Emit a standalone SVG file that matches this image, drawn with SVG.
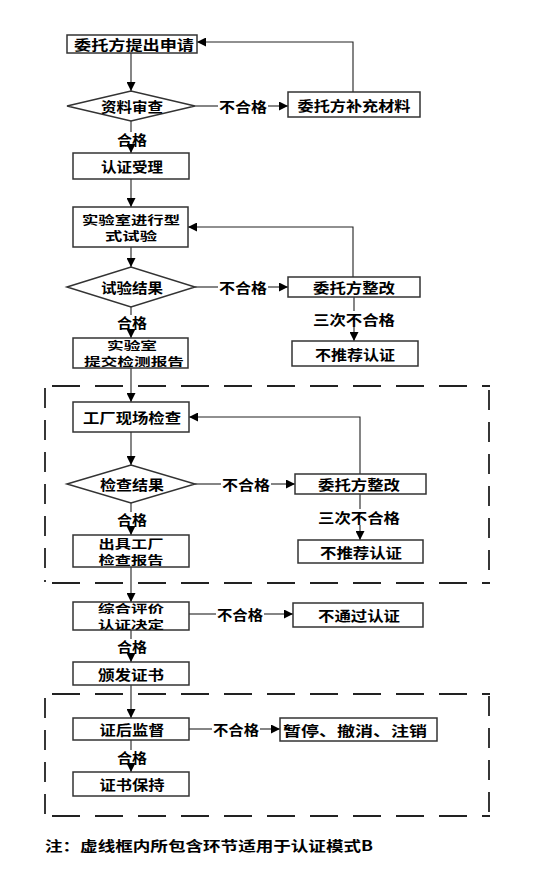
<svg xmlns="http://www.w3.org/2000/svg" width="547" height="871" viewBox="0 0 547 871">
<defs>
<style>
.box{fill:#fff;stroke:#333;stroke-width:1.5}
.t{font-family:"Noto Sans CJK SC","Liberation Serif",sans-serif;font-weight:bold;font-size:14px;fill:#000;text-anchor:middle;dominant-baseline:central}
.t2{font-size:12px}
.t3{font-size:11px}
.c{fill:none;stroke:#222;stroke-width:1.1}
.dh{fill:none;stroke:#222;stroke-width:1.8;stroke-dasharray:28 15}
.dv{fill:none;stroke:#222;stroke-width:1.8;stroke-dasharray:20 12}
</style>
<marker id="ah" viewBox="0 0 10 10" refX="10" refY="5" markerWidth="9" markerHeight="9" markerUnits="userSpaceOnUse" orient="auto"><path d="M0,0 L10,5 L0,10 z" fill="#000"/></marker>
</defs>
<rect width="547" height="871" fill="#fff"/>

<g id="dashed-frames">
<path class="dh" d="M52,386 H490"/>
<path class="dv" d="M45,388 V582"/>
<path class="dv" d="M489,390 V582"/>
<path class="dh" d="M52,583 H490"/>
<path class="dh" d="M52,694 H490"/>
<path class="dv" d="M45,698 V816"/>
<path class="dv" d="M489,696 V816"/>
<path class="dh" d="M52,816 H490"/>
</g>

<g id="connectors">
<path class="c" d="M131,53 V91" marker-end="url(#ah)"/>
<path class="c" d="M195,106 H218"/>
<path class="c" d="M268,106 H288" marker-end="url(#ah)"/>
<path class="c" d="M353,92 V42 H197" marker-end="url(#ah)"/>
<path class="c" d="M131,121 V132"/>
<path class="c" d="M131,146 V153" marker-end="url(#ah)"/>
<path class="c" d="M131,179 V207" marker-end="url(#ah)"/>
<path class="c" d="M131,247 V267" marker-end="url(#ah)"/>
<path class="c" d="M195,287 H218"/>
<path class="c" d="M268,287 H288" marker-end="url(#ah)"/>
<path class="c" d="M353,277 V227 H188" marker-end="url(#ah)"/>
<path class="c" d="M354,297 V311"/>
<path class="c" d="M354,327 V341" marker-end="url(#ah)"/>
<path class="c" d="M131,307 V315"/>
<path class="c" d="M131,329 V338" marker-end="url(#ah)"/>
<path class="c" d="M131,368 V402" marker-end="url(#ah)"/>
<path class="c" d="M131,432 V465" marker-end="url(#ah)"/>
<path class="c" d="M195,484 H221"/>
<path class="c" d="M271,484 H295" marker-end="url(#ah)"/>
<path class="c" d="M360,474 V417 H189" marker-end="url(#ah)"/>
<path class="c" d="M360,494 V509"/>
<path class="c" d="M360,525 V540" marker-end="url(#ah)"/>
<path class="c" d="M131,503 V512"/>
<path class="c" d="M131,526 V535" marker-end="url(#ah)"/>
<path class="c" d="M131,567 V602" marker-end="url(#ah)"/>
<path class="c" d="M189,614 H216"/>
<path class="c" d="M264,614 H293" marker-end="url(#ah)"/>
<path class="c" d="M131,630 V639"/>
<path class="c" d="M131,653 V662" marker-end="url(#ah)"/>
<path class="c" d="M131,685 V718" marker-end="url(#ah)"/>
<path class="c" d="M189,729 H212"/>
<path class="c" d="M260,729 H280" marker-end="url(#ah)"/>
<path class="c" d="M131,740 V750"/>
<path class="c" d="M131,764 V772" marker-end="url(#ah)"/>
</g>

<g id="labels">
<text class="t" x="243" y="106" textLength="48" lengthAdjust="spacingAndGlyphs">不合格</text>
<text class="t" x="132" y="139" textLength="30" lengthAdjust="spacingAndGlyphs">合格</text>
<text class="t" x="243" y="287" textLength="48" lengthAdjust="spacingAndGlyphs">不合格</text>
<text class="t" x="354" y="319" textLength="82" lengthAdjust="spacingAndGlyphs">三次不合格</text>
<text class="t" x="132" y="322" textLength="30" lengthAdjust="spacingAndGlyphs">合格</text>
<text class="t" x="246" y="484" textLength="48" lengthAdjust="spacingAndGlyphs">不合格</text>
<text class="t" x="359" y="517" textLength="82" lengthAdjust="spacingAndGlyphs">三次不合格</text>
<text class="t" x="132" y="519" textLength="30" lengthAdjust="spacingAndGlyphs">合格</text>
<text class="t" x="240" y="614" textLength="46" lengthAdjust="spacingAndGlyphs">不合格</text>
<text class="t" x="132" y="646" textLength="30" lengthAdjust="spacingAndGlyphs">合格</text>
<text class="t" x="236" y="729" textLength="46" lengthAdjust="spacingAndGlyphs">不合格</text>
<text class="t" x="132" y="757" textLength="30" lengthAdjust="spacingAndGlyphs">合格</text>
</g>

<g id="n1"><rect class="box" x="67" y="35" width="130" height="18"/><text class="t" x="134" y="44" textLength="120" lengthAdjust="spacingAndGlyphs">委托方提出申请</text></g>
<g id="d1"><polygon class="box" points="67,106 131,91 195,106 131,121"/><text class="t" x="132" y="106" textLength="62" lengthAdjust="spacingAndGlyphs">资料审查</text></g>
<g id="n2"><rect class="box" x="288" y="92" width="132" height="25"/><text class="t" x="354" y="104.5" textLength="113" lengthAdjust="spacingAndGlyphs">委托方补充材料</text></g>
<g id="n3"><rect class="box" x="73" y="153" width="116" height="26"/><text class="t" x="132" y="166" textLength="62" lengthAdjust="spacingAndGlyphs">认证受理</text></g>
<g id="n4"><rect class="box" x="73" y="207" width="115" height="40"/><text class="t t2" x="131" y="219" textLength="98" lengthAdjust="spacingAndGlyphs">实验室进行型</text><text class="t t2" x="131" y="235" textLength="52" lengthAdjust="spacingAndGlyphs">式试验</text></g>
<g id="d2"><polygon class="box" points="67,287 131,267 195,287 131,307"/><text class="t" x="132" y="287" textLength="62" lengthAdjust="spacingAndGlyphs">试验结果</text></g>
<g id="n5"><rect class="box" x="288" y="277" width="132" height="20"/><text class="t" x="354" y="287" textLength="82" lengthAdjust="spacingAndGlyphs">委托方整改</text></g>
<g id="n6"><rect class="box" x="292" y="341" width="126" height="25"/><text class="t" x="355" y="353.5" textLength="80" lengthAdjust="spacingAndGlyphs">不推荐认证</text></g>
<g id="n7"><rect class="box" x="73" y="338" width="115" height="30"/><text class="t t3" x="132" y="345" textLength="50" lengthAdjust="spacingAndGlyphs">实验室</text><text class="t t3" x="134" y="361" textLength="100" lengthAdjust="spacingAndGlyphs">提交检测报告</text></g>
<g id="n8"><rect class="box" x="73" y="402" width="116" height="30"/><text class="t" x="132" y="417" textLength="98" lengthAdjust="spacingAndGlyphs">工厂现场检查</text></g>
<g id="d3"><polygon class="box" points="67,484 131,465 195,484 131,503"/><text class="t" x="132" y="484" textLength="64" lengthAdjust="spacingAndGlyphs">检查结果</text></g>
<g id="n9"><rect class="box" x="295" y="474" width="131" height="20"/><text class="t" x="359" y="484" textLength="82" lengthAdjust="spacingAndGlyphs">委托方整改</text></g>
<g id="n10"><rect class="box" x="298" y="540" width="125" height="23"/><text class="t" x="361" y="551.5" textLength="82" lengthAdjust="spacingAndGlyphs">不推荐认证</text></g>
<g id="n11"><rect class="box" x="73" y="535" width="116" height="32"/><text class="t t2" x="131" y="543" textLength="65" lengthAdjust="spacingAndGlyphs">出具工厂</text><text class="t t2" x="131" y="559" textLength="65" lengthAdjust="spacingAndGlyphs">检查报告</text></g>
<g id="n12"><rect class="box" x="73" y="602" width="116" height="28"/><text class="t t3" x="131" y="608" textLength="66" lengthAdjust="spacingAndGlyphs">综合评价</text><text class="t t3" x="131" y="624" textLength="66" lengthAdjust="spacingAndGlyphs">认证决定</text></g>
<g id="n13"><rect class="box" x="293" y="603" width="130" height="24"/><text class="t" x="359" y="615" textLength="82" lengthAdjust="spacingAndGlyphs">不通过认证</text></g>
<g id="n14"><rect class="box" x="73" y="662" width="116" height="23"/><text class="t" x="131" y="673.5" textLength="66" lengthAdjust="spacingAndGlyphs">颁发证书</text></g>
<g id="n15"><rect class="box" x="73" y="718" width="116" height="22"/><text class="t" x="132" y="729" textLength="65" lengthAdjust="spacingAndGlyphs">证后监督</text></g>
<g id="n16"><rect class="box" x="280" y="718" width="157" height="23"/><text class="t" x="355" y="729.5" textLength="144" lengthAdjust="spacingAndGlyphs">暂停、撤消、注销</text></g>
<g id="n17"><rect class="box" x="73" y="772" width="116" height="24"/><text class="t" x="132" y="784" textLength="65" lengthAdjust="spacingAndGlyphs">证书保持</text></g>

<g id="note"><text class="t" x="45" y="845" textLength="328" lengthAdjust="spacingAndGlyphs" style="text-anchor:start">注：虚线框内所包含环节适用于认证模式B</text></g>
</svg>
